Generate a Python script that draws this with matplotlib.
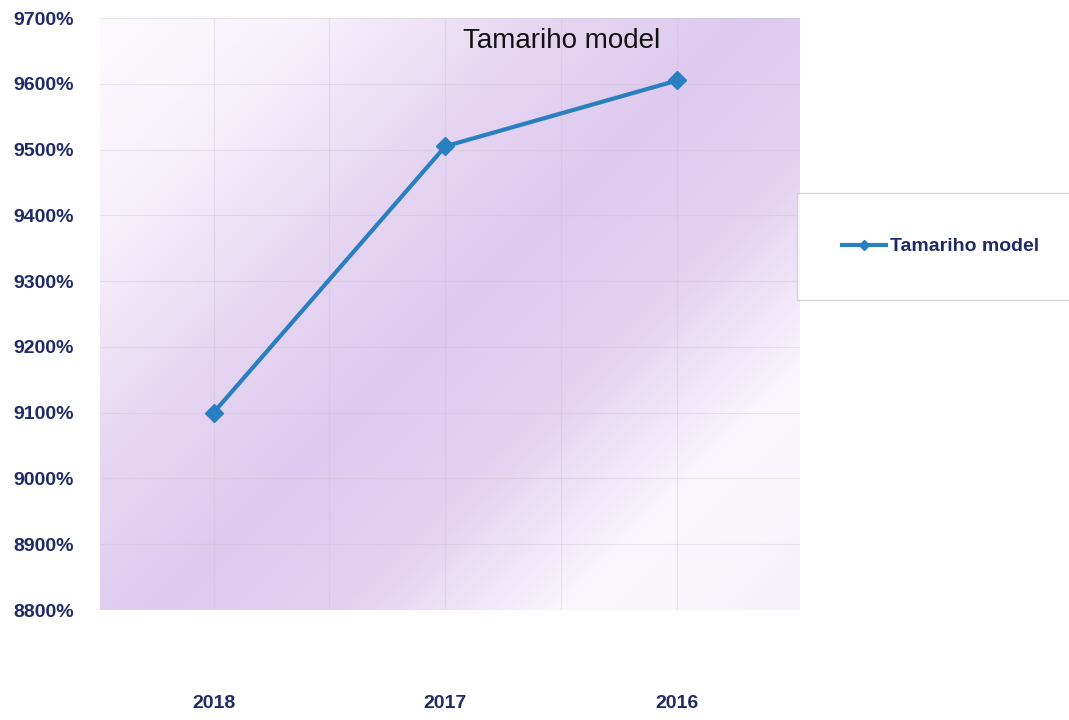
import numpy as np
import matplotlib
matplotlib.use("Agg")
import matplotlib.pyplot as plt
from matplotlib.ticker import FuncFormatter

years = ["2018", "2017", "2016"]
values = [9100, 9505, 9605]
series_name = "Tamariho model"
yticks = [8800, 8900, 9000, 9100, 9200, 9300, 9400, 9500, 9600, 9700]

plt.rcParams['font.family'] = ['Liberation Sans', 'DejaVu Sans']
navy = "#1f2a66"
line_col = "#2a7fc1"

fig = plt.figure(figsize=(10.69, 7.2), dpi=100)
ax = fig.add_axes([100/1069, 110/720, 700/1069, 592/720])

# diagonal lavender gradient background
W, H = 700, 592
xx, yy = np.meshgrid(np.linspace(0, W, 400), np.linspace(0, H, 340))
d = (xx + yy) / (W + H)
f = np.interp(d, [0.0, 0.15, 0.35, 0.5, 0.65, 0.75, 0.82, 0.92, 1.0],
                 [0.0, 0.15, 0.75, 1.0, 0.85, 0.4, 0.05, 0.1, 0.2])
white = np.array([252, 250, 253]) / 255
purple = np.array([222, 202, 238]) / 255
img = white[None, None, :] * (1 - f[..., None]) + purple[None, None, :] * f[..., None]
ax.imshow(img, extent=(0, 1, 0, 1), transform=ax.transAxes, aspect='auto', zorder=0)

x = np.arange(len(years))
ax.plot(x, values, color=line_col, lw=3, marker='D', markersize=9,
        label=series_name, zorder=3)

ax.set_xlim(-0.49, 2.53)
ax.set_ylim(8800, 9700)
ax.set_yticks(yticks)
ax.yaxis.set_major_formatter(FuncFormatter(lambda v, p: f"{int(v)}%"))
ax.set_xticks(x)
ax.set_xticks([0.5, 1.5], minor=True)
ax.set_xticklabels(years)
for lab in ax.get_yticklabels() + ax.get_xticklabels():
    lab.set_fontweight('bold')
    lab.set_color(navy)
    lab.set_fontsize(14)
ax.tick_params(axis='y', length=0, pad=19)
ax.tick_params(axis='x', length=0, pad=61)
ax.tick_params(axis='x', which='minor', length=0)
ax.grid(True, color='#c8c0d0', alpha=0.35, lw=0.8)
ax.grid(True, which='minor', axis='x', color='#c8c0d0', alpha=0.35, lw=0.8)
for s in ax.spines.values():
    s.set_visible(False)

ax.set_title(series_name, fontsize=20, color='#111111', x=0.66, y=0.95, pad=0)

leg = fig.legend(loc='upper left', bbox_to_anchor=(797/1069, 1 - 193/720),
                 frameon=True, fontsize=14, handlelength=2.3,
                 borderpad=2.3, handletextpad=0.2, borderaxespad=0)
leg.get_frame().set_edgecolor('#cccccc')
leg.get_frame().set_linewidth(1.0)
leg.get_frame().set_boxstyle('square', pad=0)
for t in leg.get_texts():
    t.set_fontweight('bold')
    t.set_color(navy)
for h in leg.legend_handles:
    h.set_markersize(5)

fig.savefig("out.png", dpi=100)
